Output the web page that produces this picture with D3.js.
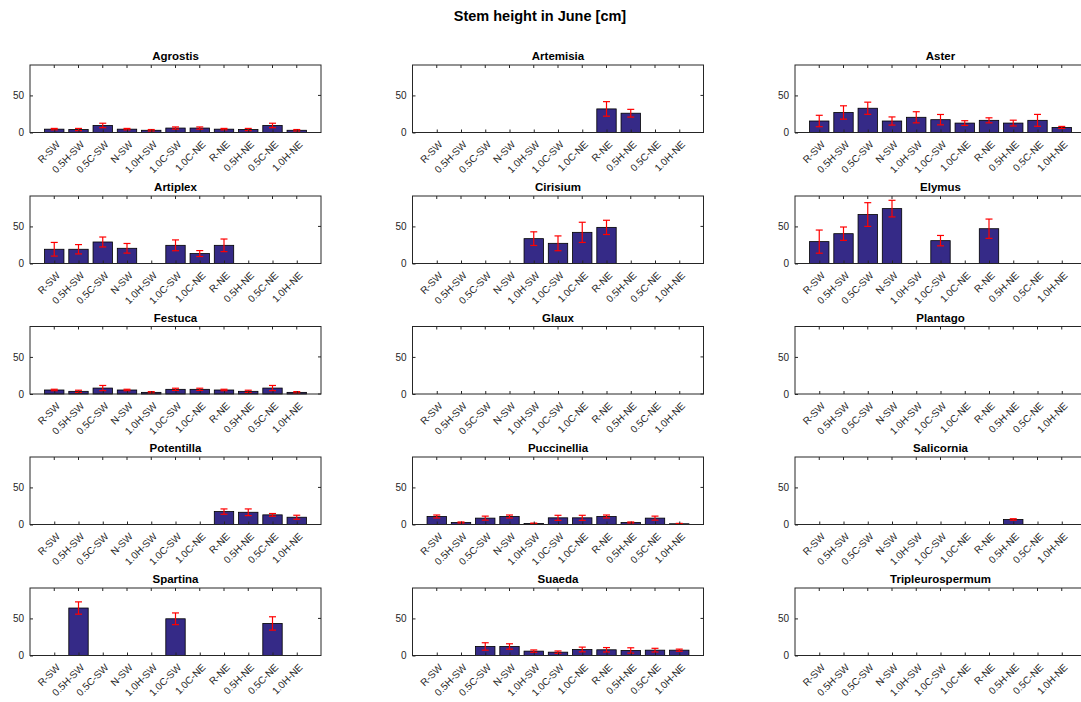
<!DOCTYPE html>
<html><head><meta charset="utf-8">
<script src="https://cdn.jsdelivr.net/npm/d3@7"></script>
<style>body{margin:0;background:#fff;} svg{display:block;font-family:"Liberation Sans",Arial,sans-serif;}</style>
</head><body>
<svg id="chart" width="1081" height="702"></svg>
<script>
const categories = ["R-SW","0.5H-SW","0.5C-SW","N-SW","1.0H-SW","1.0C-SW","1.0C-NE","R-NE","0.5H-NE","0.5C-NE","1.0H-NE"];
const species = ["Agrostis","Artemisia","Aster","Artiplex","Cirisium","Elymus","Festuca","Glaux","Plantago","Potentilla","Puccinellia","Salicornia","Spartina","Suaeda","Tripleurospermum"];
const yTicks = [0, 50];
const yMax = 91;
// means (null = no bar)
const agrostisMean = [4.5,4,9.5,4.5,3,6,6,4.5,4,9.5,3];
const agrostisErr  = [1,1.5,3,1,1,1.5,1.5,1,1.5,3,1];
const artemisiaMean = [null,null,null,null,null,null,null,31.8,26,null,null];
const artemisiaErr  = [null,null,null,null,null,null,null,9.8,5.2,null,null];
const asterMean = [15.5,27,32.7,15.5,20.5,17.3,12.7,16.4,12.7,16.4,6.8];
const asterErr  = [7.7,9,8.2,5.5,7.5,7,3.2,3.4,3.9,8,1.4];
const artiplexMean = [19.2,19.2,29,20.5,null,24.5,13.4,24.5,null,null,null];
const artiplexErr  = [9.2,6.3,6.7,6.5,null,7.3,4,8.5,null,null,null];
const cirisiumMean = [null,null,null,null,33.5,27.2,42,48.7,null,null,null];
const cirisiumErr  = [null,null,null,null,9.2,10,13.6,9.6,null,null,null];
const elymusMean = [29.5,40.2,66,74,null,30.8,null,46.9,null,null,null];
const elymusErr  = [15.6,9,16,11.2,null,7,null,13,null,null,null];
const festucaMean = [5.4,3.6,8,5.4,2.2,6.3,6.3,5.4,3.6,8,2.2];
const festucaErr  = [1,1.5,3.5,1,1,1.5,1.5,1,1.5,3.5,1];
const glauxMean = [null,null,null,null,null,null,null,null,null,null,null];
const glauxErr  = glauxMean;
const plantagoMean = [null,null,null,null,null,null,null,null,null,null,null];
const plantagoErr  = plantagoMean;
const potentillaMean = [null,null,null,null,null,null,null,17.4,16.5,13,9.8];
const potentillaErr  = [null,null,null,null,null,null,null,3.6,4.5,1.8,2.7];
const puccinelliaMean = [10.8,2.7,8.6,10.8,1.4,9,9,10.8,2.7,8.6,1];
const puccinelliaErr  = [2,0.7,2.7,2,0.5,3.4,3.4,2,0.7,2.7,0.5];
const salicorniaMean = [null,null,null,null,null,null,null,null,6.8,null,null];
const salicorniaErr  = [null,null,null,null,null,null,null,null,1,null,null];
const spartinaMean = [null,64,null,null,null,49.5,null,null,null,43.2,null];
const spartinaErr  = [null,8.3,null,null,null,7.9,null,null,null,9,null];
const suaedaMean = [null,null,12.2,12.2,5.9,4.5,8.1,7.7,6.8,7.2,7.2];
const suaedaErr  = [null,null,5,3.6,1.6,1.6,3.2,3,3.6,2.5,1.4];
const tripleuroMean = [null,null,null,null,null,null,null,null,null,null,null];
const tripleuroErr  = tripleuroMean;

const means = [agrostisMean,artemisiaMean,asterMean,artiplexMean,cirisiumMean,elymusMean,festucaMean,glauxMean,plantagoMean,potentillaMean,puccinelliaMean,salicorniaMean,spartinaMean,suaedaMean,tripleuroMean];
const errs = [agrostisErr,artemisiaErr,asterErr,artiplexErr,cirisiumErr,elymusErr,festucaErr,glauxErr,plantagoErr,potentillaErr,puccinelliaErr,salicorniaErr,spartinaErr,suaedaErr,tripleuroErr];

const svg = d3.select("#chart");
svg.append("text").attr("x",540).attr("y",21).attr("text-anchor","middle")
  .attr("font-size",14.5).attr("font-weight","bold").attr("fill","#000").text("Stem height in June [cm]");

const colLeft = [30, 412.5, 795];
const rowTop = [65, 196, 326.5, 457, 588];
const W = 291, H = 67.5;
const axisCol = "#262626";
const barCol = "#352a87";

species.forEach((name, i) => {
  const c = i % 3, r = Math.floor(i / 3);
  const g = svg.append("g").attr("transform", `translate(${colLeft[c]},${rowTop[r]})`);
  const x = d3.scaleLinear().domain([0, 12]).range([0, W]);
  const y = d3.scaleLinear().domain([0, yMax]).range([H, 0]);
  const data = categories.map((cat, k) => ({k: k + 1, cat, m: means[i][k], e: errs[i][k]}));
  const present = data.filter(d => d.m != null);
  const bw = x(0.8) - x(0);
  // bars
  g.selectAll("rect.bar").data(present).join("rect").attr("class","bar")
    .attr("x", d => x(d.k) - bw/2).attr("width", bw)
    .attr("y", d => y(d.m)).attr("height", d => y(0) - y(d.m))
    .attr("fill", barCol).attr("stroke", "#000").attr("stroke-width", 0.8);
  // error bars
  const eg = g.selectAll("g.err").data(present).join("g").attr("class","err")
    .attr("stroke","#ff0000").attr("stroke-width",1.2);
  eg.append("line").attr("x1", d => x(d.k)).attr("x2", d => x(d.k))
    .attr("y1", d => y(d.m - d.e)).attr("y2", d => y(d.m + d.e));
  eg.append("line").attr("x1", d => x(d.k) - 3.5).attr("x2", d => x(d.k) + 3.5)
    .attr("y1", d => y(d.m + d.e)).attr("y2", d => y(d.m + d.e));
  eg.append("line").attr("x1", d => x(d.k) - 3.5).attr("x2", d => x(d.k) + 3.5)
    .attr("y1", d => y(d.m - d.e)).attr("y2", d => y(d.m - d.e));
  // box
  g.append("rect").attr("x",0).attr("y",0).attr("width",W).attr("height",H)
    .attr("fill","none").attr("stroke",axisCol).attr("stroke-width",1);
  // x axis
  const xa = g.append("g").attr("transform",`translate(0,${H})`)
    .call(d3.axisBottom(x).tickValues(d3.range(1,12)).tickFormat(v => categories[v-1]).tickSizeInner(-3).tickSizeOuter(0));
  xa.select(".domain").remove();
  xa.selectAll("line").attr("stroke",axisCol);
  xa.selectAll("text").attr("font-size",10).attr("fill",axisCol)
    .attr("text-anchor","end").attr("x",0).attr("y",0).attr("dy",0)
    .attr("transform","translate(6,12.5) rotate(-45)");
  // top ticks
  g.selectAll("line.tt").data(d3.range(1,12)).join("line").attr("class","tt")
    .attr("x1", d => x(d)).attr("x2", d => x(d)).attr("y1",0).attr("y2",3).attr("stroke",axisCol);
  // y axis
  const ya = g.append("g").call(d3.axisLeft(y).tickValues(yTicks).tickSizeInner(-3).tickSizeOuter(0).tickPadding(6));
  ya.select(".domain").remove();
  ya.selectAll("line").attr("stroke",axisCol);
  ya.selectAll("text").attr("font-size",10).attr("fill",axisCol);
  g.selectAll("line.rt").data(yTicks).join("line").attr("class","rt")
    .attr("x1", W).attr("x2", W - 3).attr("y1", d => y(d)).attr("y2", d => y(d)).attr("stroke",axisCol);
  // title
  g.append("text").attr("x", W/2).attr("y", -5).attr("text-anchor","middle")
    .attr("font-size",11.5).attr("font-weight","bold").attr("fill","#000").text(name);
});
</script>
</body></html>
